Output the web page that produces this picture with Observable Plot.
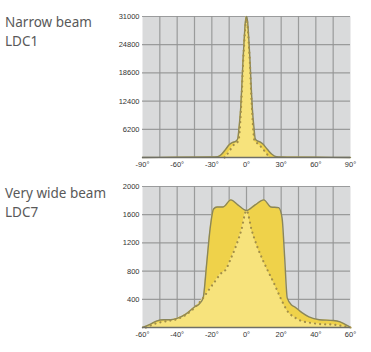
<!DOCTYPE html>
<html>
<head>
<meta charset="utf-8">
<script src="https://cdn.jsdelivr.net/npm/d3@7"></script>
<script src="https://cdn.jsdelivr.net/npm/@observablehq/plot@0.6"></script>
<style>
  html, body { margin: 0; padding: 0; background: #fff; }
  #wrap { position: relative; width: 371px; height: 352px; overflow: hidden; font-family: "Noto Sans", "Open Sans", sans-serif; }
  .title { position: absolute; left: 5px; font-size: 13.5px; line-height: 19px; color: #595959; }
  .chart { position: absolute; left: 0; }
  .chart svg { display: block; }
</style>
</head>
<body>
<div id="wrap">
  <div class="title" id="t1" style="top:13px"></div>
  <div class="title" id="t2" style="top:184px"></div>
  <div class="chart" id="c1" style="top:0px"></div>
  <div class="chart" id="c2" style="top:176px"></div>
</div>
<script>
// ---- Data ----
const titles1 = ["Narrow beam", "LDC1"];
const titles2 = ["Very wide beam", "LDC7"];

// Chart 1: narrow beam (LDC1)
const narrowSolidAngles = [-90, -60, -30, -25, -22, -18, -15, -12, -9, -7.5, -6.5, -5, -4, -3, -2, -1, 0, 1, 2, 3, 4, 5, 6.5, 7.5, 9, 12, 14, 18, 22, 26, 30, 60, 90];
const narrowSolidValues = [0, 60, 120, 180, 600, 1800, 2800, 3300, 3600, 4200, 6500, 11000, 16000, 21500, 26000, 29800, 31000, 29800, 26000, 21500, 16000, 11000, 6500, 4200, 3700, 3400, 3000, 1800, 700, 150, 100, 60, 0];
const narrowDotAngles = [-19, -15, -12, -9, -7, -6, -5, -4, -3, -2, -1, 0, 1, 2, 3, 4, 5, 6, 7, 9, 12, 16, 20];
const narrowDotValues = [0, 1300, 2500, 3200, 3600, 5600, 9500, 14500, 20500, 25000, 28800, 30500, 28800, 25000, 20500, 14500, 9500, 5600, 3600, 3200, 2500, 1300, 0];
const narrowXTicks = [-90, -60, -30, 0, 30, 60, 90];
const narrowXGrid = [-75, -60, -45, -30, -15, 0, 15, 30, 45, 60, 75];
const narrowYTicks = [6200, 12400, 18600, 24800, 31000];

// Chart 2: very wide beam (LDC7)
const wideSolidAngles = [-60, -56, -52, -48, -44, -40, -35, -30, -27, -25, -23, -21, -19, -17, -13.5, -9, -5, 0, 5, 10, 14, 18.5, 20.5, 22, 23.5, 26, 28, 32, 36, 42, 50, 54, 58, 60];
const wideSolidValues = [0, 40, 90, 110, 110, 130, 190, 290, 340, 420, 900, 1400, 1680, 1710, 1710, 1810, 1740, 1660, 1740, 1810, 1710, 1700, 1560, 1000, 420, 320, 290, 210, 150, 110, 100, 80, 30, 0];
const wideDotAngles = [-58, -52, -46, -40, -35, -30, -25, -21, -18, -15, -12, -9, -6, -3, 0, 3, 6, 9, 12, 16, 20, 24, 28, 32, 36, 42, 50, 56, 60];
const wideDotValues = [0, 60, 90, 120, 180, 280, 420, 560, 660, 760, 820, 980, 1160, 1380, 1660, 1380, 1160, 980, 820, 620, 400, 220, 140, 90, 70, 50, 40, 20, 0];
const wideXTicks = [-60, -40, -20, 0, 20, 40, 60];
const wideXGrid = [-50, -40, -30, -20, -10, 0, 10, 20, 30, 40, 50];
const wideYTicks = [400, 800, 1200, 1600, 2000];

// ---- Styles ----
const bg = "#d9dadb";
const gridColor = "#929394";
const outerFill = "#efd24a";
const innerFill = "#f7e37c";
const outline = "#8a865a";
const dotColor = "#a38f48";

function makeChart(cfg) {
  const solid = cfg.sa.map((a, i) => ({a, v: cfg.sv[i]}));
  const dots = cfg.da.map((a, i) => ({a, v: cfg.dv[i]}));
  return Plot.plot({
    width: 371,
    height: 176,
    marginLeft: 142,
    marginRight: 21,
    marginTop: cfg.mt,
    marginBottom: cfg.mb,
    style: {fontFamily: "'Liberation Sans', Arial, sans-serif", fontSize: "7.5px", color: "#333", background: "transparent"},
    x: {domain: cfg.xd, ticks: cfg.xt, tickSize: 0, tickPadding: 4, tickFormat: d => d + "°", label: null},
    y: {domain: cfg.yd, ticks: cfg.yt, tickSize: 0, tickPadding: 3, tickFormat: d => String(d), label: null},
    marks: [
      Plot.frame({fill: bg, stroke: null}),
      Plot.ruleX(cfg.xg, {stroke: gridColor, strokeWidth: 1.2, strokeOpacity: 0.9}),
      Plot.ruleY(cfg.yt, {stroke: gridColor, strokeWidth: 1.2, strokeOpacity: 0.9}),
      Plot.areaY(solid, {x: "a", y: "v", fill: outerFill, curve: "monotone-x"}),
      Plot.areaY(dots, {x: "a", y: "v", fill: innerFill, curve: "monotone-x"}),
      Plot.lineY(solid, {x: "a", y: "v", stroke: outline, strokeWidth: 1.4, curve: "monotone-x"}),
      Plot.lineY(dots, {x: "a", y: "v", stroke: dotColor, strokeWidth: 2.2, strokeDasharray: "0.1,5", strokeLinecap: "round", curve: "monotone-x"}),
      Plot.ruleY([0], {stroke: "#6f6f66", strokeWidth: 1.5})
    ]
  });
}

document.getElementById("t1").innerHTML = titles1.join("<br>");
document.getElementById("t2").innerHTML = titles2.join("<br>");

document.getElementById("c1").appendChild(makeChart({
  sa: narrowSolidAngles, sv: narrowSolidValues, da: narrowDotAngles, dv: narrowDotValues,
  xd: [-90, 90], xt: narrowXTicks, xg: narrowXGrid, yd: [0, 31000], yt: narrowYTicks,
  mt: 16, mb: 19
}));
document.getElementById("c2").appendChild(makeChart({
  sa: wideSolidAngles, sv: wideSolidValues, da: wideDotAngles, dv: wideDotValues,
  xd: [-60, 60], xt: wideXTicks, xg: wideXGrid, yd: [0, 2000], yt: wideYTicks,
  mt: 10, mb: 25
}));
</script>
</body>
</html>
